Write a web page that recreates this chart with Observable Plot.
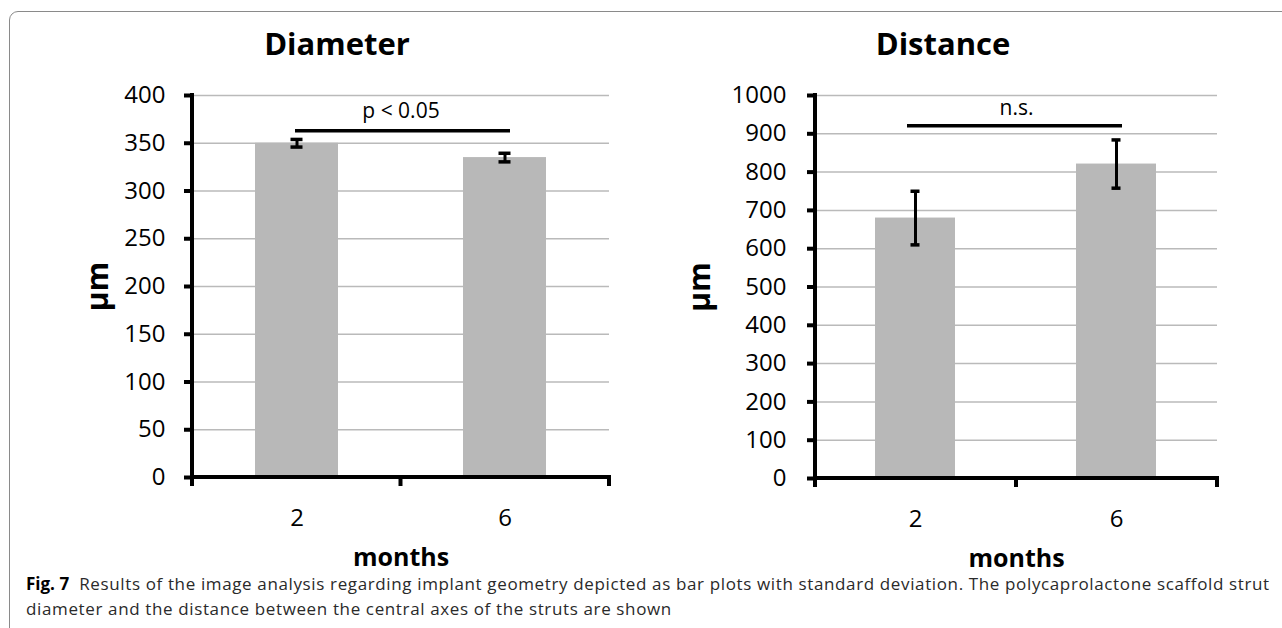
<!DOCTYPE html>
<html><head><meta charset="utf-8">
<script src="https://cdn.jsdelivr.net/npm/d3@7"></script>
<script src="https://cdn.jsdelivr.net/npm/@observablehq/plot@0.6"></script>
<style>
body{margin:0;background:#fff;}
#page{position:relative;width:1282px;height:628px;overflow:hidden;font-family:"Open Sans",sans-serif;background:#fff;}
#frame{position:absolute;left:9px;top:11px;width:1300px;height:640px;border:1px solid #8a8a8a;border-radius:9px;}
.chart{position:absolute;top:0;}
.title{position:absolute;top:43px;font-weight:bold;font-size:31px;transform:translate(-50%,-50%);color:#000;white-space:nowrap;}
.cap{position:absolute;left:26px;font-size:17px;letter-spacing:0.63px;line-height:18px;color:#2a2a2a;white-space:nowrap;}
.cap b{color:#000;letter-spacing:0;}
</style></head>
<body><div id="page"><div id="frame"></div>
<div class="chart" id="c1" style="left:0"></div>
<div class="chart" id="c2" style="left:640px"></div>
<div class="title" style="left:337px">Diameter</div>
<div class="title" style="left:943px">Distance</div>
<div class="cap" style="top:575px"><b>Fig. 7</b>&nbsp; Results of the image analysis regarding implant geometry depicted as bar plots with standard deviation. The polycaprolactone scaffold strut</div>
<div class="cap" style="top:600px">diameter and the distance between the central axes of the struts are shown</div>
</div>
<script>
const months = ["2", "6"];
const diameterMean = [350, 335];
const diameterSD = [4, 4.5];
const distanceMean = [680, 821];
const distanceSD = [70, 63];
const diameterTicks = [0, 50, 100, 150, 200, 250, 300, 350, 400];
const distanceTicks = [0, 100, 200, 300, 400, 500, 600, 700, 800, 900, 1000];
const diameterSig = {y: 363, textY: 383, label: "p < 0.05"};
const distanceSig = {y: 921, textY: 966, label: "n.s."};

function chart({means, sds, ticks, sig, width, height, margins, tickPadding, labelDx, sigInsets}) {
  const data = months.map((m, i) => ({month: m, mean: means[i], sd: sds[i]}));
  const axisLines = (index, scales, values, dims) => {
    const g = d3.create("svg:g").attr("stroke", "black").attr("stroke-width", 4).attr("fill", "none");
    const y0 = scales.y(0), yTop = scales.y(ticks[ticks.length - 1]);
    const xl = dims.marginLeft, xr = dims.width - dims.marginRight;
    g.append("line").attr("x1", xl).attr("x2", xl).attr("y1", yTop - 2).attr("y2", y0 + 9);
    g.append("line").attr("x1", xl - 2).attr("x2", xr + 2).attr("y1", y0).attr("y2", y0);
    const n = months.length;
    for (let i = 1; i <= n; i++) {
      const x = xl + (xr - xl) * i / n;
      g.append("line").attr("x1", x).attr("x2", x).attr("y1", y0).attr("y2", y0 + 9);
    }
    return g.node();
  };
  return Plot.plot({
    width, height,
    marginLeft: margins[0], marginRight: margins[1], marginTop: margins[2], marginBottom: margins[3],
    style: {fontFamily: "Open Sans", color: "black", background: "transparent"},
    x: {domain: months, paddingInner: 0.6, paddingOuter: 0.3, label: null},
    y: {domain: [0, ticks[ticks.length - 1]], label: null},
    marks: [
      Plot.gridY(ticks, {stroke: "#bababa", strokeOpacity: 1, strokeWidth: 1.5}),
      Plot.barY(data, {x: "month", y: "mean", fill: "#b8b8b8"}),
      Plot.ruleX(data, {x: "month", y1: d => d.mean - d.sd, y2: d => d.mean + d.sd, stroke: "black", strokeWidth: 3}),
      Plot.tickY(data, {x: "month", y: d => d.mean - d.sd, stroke: "black", strokeWidth: 3.5, insetLeft: 35.5, insetRight: 35.5}),
      Plot.tickY(data, {x: "month", y: d => d.mean + d.sd, stroke: "black", strokeWidth: 3.5, insetLeft: 35.5, insetRight: 35.5}),
      Plot.ruleY([sig], {y: "y", x1: () => months[0], x2: () => months[months.length - 1], stroke: "black", strokeWidth: 3.5, insetLeft: sigInsets[0], insetRight: sigInsets[1]}),
      Plot.text([sig], {y: "textY", text: "label", fontSize: 21, fill: "black"}),
      Plot.axisY(ticks, {tickSize: 8, tickPadding: tickPadding, fontSize: 24, strokeWidth: 4, label: null, tickFormat: d => String(d), fill: "black"}),
      Plot.axisX({tickSize: 0, tickPadding: 31, fontSize: 24, label: null, fill: "black"}),
      axisLines,
      Plot.text(["months"], {frameAnchor: "bottom", dy: 88, text: d => d, fontSize: 25, fontWeight: "bold", fill: "black"}),
      Plot.text(["µm"], {frameAnchor: "left", dx: labelDx, rotate: -90, textAnchor: "middle", text: d => d, fontSize: 30, fontWeight: "bold", fill: "black"})
    ]
  });
}

document.getElementById("c1").append(chart({
  means: diameterMean, sds: diameterSD, ticks: diameterTicks, sig: diameterSig,
  width: 640, height: 580, margins: [192, 31, 95, 103], tickPadding: 19, labelDx: -94, sigInsets: [40, 36]
}));
document.getElementById("c2").append(chart({
  means: distanceMean, sds: distanceSD, ticks: distanceTicks, sig: distanceSig,
  width: 642, height: 580, margins: [175, 65, 95, 102], tickPadding: 21, labelDx: -115, sigInsets: [32, 34]
}));
</script>
</body></html>
